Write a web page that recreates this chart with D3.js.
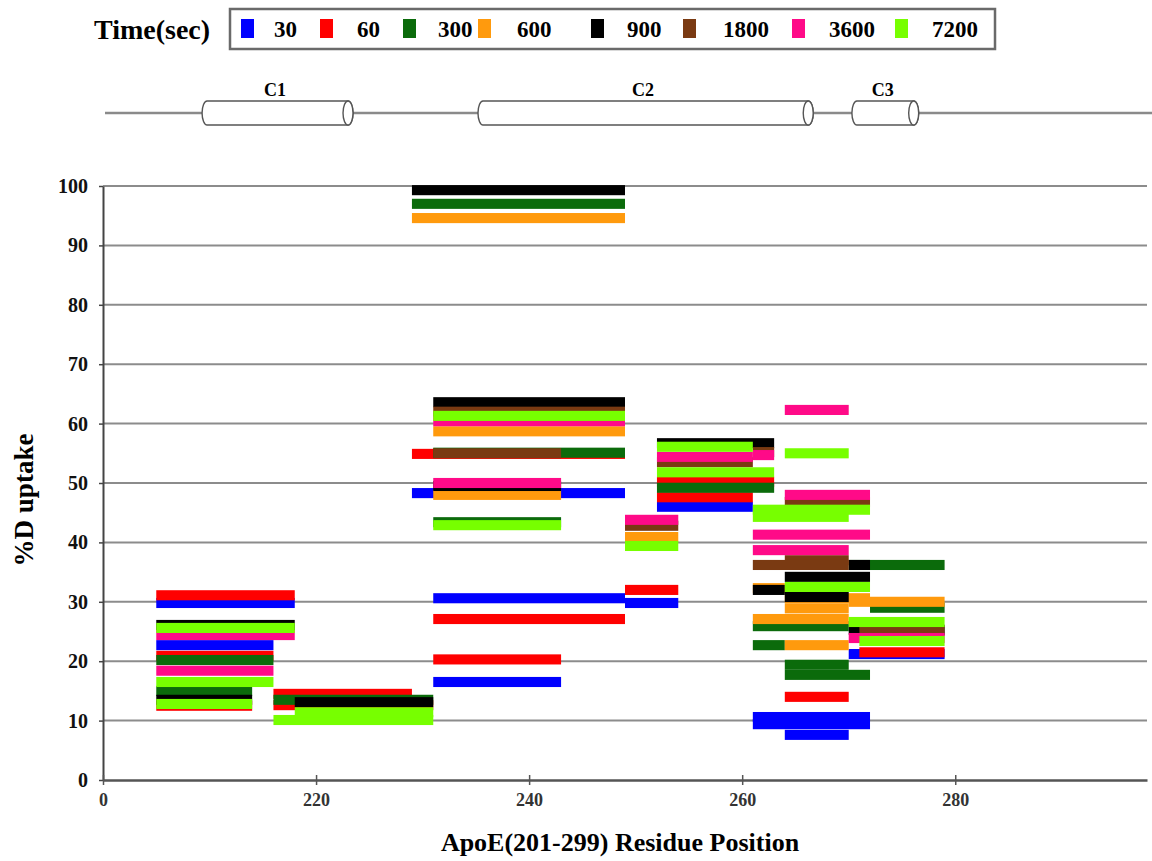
<!DOCTYPE html>
<html>
<head>
<meta charset="utf-8">
<script src="https://cdn.jsdelivr.net/npm/d3@7"></script>
<style>
body { margin: 0; background: #fff; }
text { font-family: "Liberation Serif", "Times New Roman", serif; }
</style>
</head>
<body>
<div class="chart"></div>
<script>
// time points (legend) and their colours
const times = ["30", "60", "300", "600", "900", "1800", "3600", "7200"];
const colors = ["#0000ff", "#ff0000", "#0b6b0b", "#ff9a0d", "#000000", "#7a3a12", "#ff0a88", "#77ff00"];

// each peptide: [start residue, end residue, %D uptake]
const uptake30 = [
    [205, 218, 29.8], [205, 216, 22.7], [229, 249, 48.3], [231, 249, 30.6],
    [231, 243, 16.5], [249, 254, 29.8], [252, 261, 46.0], [270, 279, 21.2],
    [261, 272, 10.6], [261, 272, 9.4], [264, 270, 7.6]
];
const uptake60 = [
    [205, 218, 31.1], [205, 216, 20.9], [205, 214, 12.5], [216, 229, 14.5],
    [216, 231, 12.6], [229, 249, 54.9], [231, 249, 27.1], [231, 243, 20.3],
    [249, 254, 32.0], [252, 263, 50.2], [252, 261, 47.6], [264, 270, 14.0],
    [271, 279, 21.5]
];
const uptake300 = [
    [205, 216, 20.2], [205, 214, 15.0], [216, 231, 13.5], [229, 249, 97.0],
    [231, 249, 55.1], [231, 243, 43.4], [252, 263, 49.2], [261, 264, 22.7],
    [264, 270, 19.4], [264, 272, 17.7], [270, 279, 36.2], [272, 279, 29.0],
    [261, 270, 25.9]
];
const uptake600 = [
    [229, 249, 94.6], [231, 249, 58.7], [231, 243, 48.0], [249, 254, 40.9],
    [261, 264, 32.3], [264, 272, 30.6], [270, 279, 30.0], [264, 270, 28.9],
    [261, 270, 27.1], [264, 270, 22.7]
];
const uptake900 = [
    [205, 218, 26.1], [205, 214, 13.5], [218, 231, 13.1], [229, 249, 99.3],
    [231, 249, 63.6], [231, 243, 49.5], [252, 263, 56.7], [261, 264, 32.0],
    [264, 272, 34.2], [264, 270, 30.8], [270, 272, 36.2], [270, 279, 25.3]
];
const uptake1800 = [
    [231, 249, 62.0], [231, 243, 55.0], [249, 254, 42.8], [252, 261, 53.5],
    [261, 263, 55.2], [264, 272, 46.8], [264, 270, 37.0], [261, 270, 36.2],
    [271, 279, 25.1]
];
const uptake3600 = [
    [205, 218, 24.4], [205, 216, 18.4], [231, 249, 60.4], [231, 243, 50.0],
    [249, 254, 43.8], [252, 261, 54.4], [261, 263, 54.7], [264, 270, 62.3],
    [264, 272, 48.0], [261, 272, 41.3], [261, 270, 38.7], [270, 279, 23.9]
];
const uptake7200 = [
    [205, 218, 25.6], [205, 216, 16.5], [205, 214, 12.8], [216, 231, 10.1],
    [218, 231, 11.4], [231, 249, 61.3], [231, 243, 42.9], [249, 254, 39.4],
    [252, 261, 56.1], [252, 263, 51.8], [264, 270, 55.0], [261, 272, 45.5],
    [261, 270, 44.3], [264, 272, 32.5], [270, 279, 26.6], [271, 279, 23.4]
];

// secondary structure (helices) along the sequence
const helixNames = ["C1", "C2", "C3"];
const helixStart = [209.3, 235.2, 270.3];
const helixEnd = [223, 266.2, 276.1];

const xTicks = [200, 220, 240, 260, 280];
const xTickLabels = ["0", "220", "240", "260", "280"];
const yTicks = [0, 10, 20, 30, 40, 50, 60, 70, 80, 90, 100];

function drawChart() {
    const w = 1152;
    const h = 861;
    const plot = { left: 103, right: 1147, top: 186, bottom: 780 };
    const barHalf = 0.85;

    const uptakes = [uptake30, uptake60, uptake300, uptake600, uptake900, uptake1800, uptake3600, uptake7200];
    const series = times.map((t, i) => ({ time: t, color: colors[i], bars: uptakes[i] }));

    const xScale = d3.scaleLinear()
        .domain([200, 298])
        .range([plot.left, plot.right]);

    const yScale = d3.scaleLinear()
        .domain([0, 100])
        .range([plot.bottom, plot.top]);

    const svg = d3.select('.chart')
        .append('svg')
        .attr('width', w)
        .attr('height', h)
        .style('background', '#fff');

    // legend
    const legendSquareX = [241, 320, 403, 478, 591, 683, 792, 895];
    const legendTextX = [274, 357, 438, 517, 627, 723, 829, 932];

    svg.append('text')
        .attr('x', 94)
        .attr('y', 39)
        .attr('font-size', 28)
        .attr('font-weight', 'bold')
        .text('Time(sec)');

    svg.append('rect')
        .attr('x', 230)
        .attr('y', 9)
        .attr('width', 765)
        .attr('height', 40)
        .attr('fill', '#fff')
        .attr('stroke', '#6a6a6a')
        .attr('stroke-width', 2.5);

    const legend = svg.append('g')
        .selectAll('g')
        .data(series)
        .enter()
        .append('g');

    legend.append('rect')
        .attr('x', (d, i) => legendSquareX[i])
        .attr('y', 19)
        .attr('width', 13)
        .attr('height', 19)
        .attr('fill', d => d.color);

    legend.append('text')
        .attr('x', (d, i) => legendTextX[i])
        .attr('y', 37)
        .attr('font-size', 23)
        .attr('font-weight', 'bold')
        .text(d => d.time);

    // helix diagram
    const hy = 113;
    const hr = 12;
    const capR = 5;

    svg.append('line')
        .attr('x1', 105)
        .attr('x2', w)
        .attr('y1', hy)
        .attr('y2', hy)
        .attr('stroke', '#8a8a8a')
        .attr('stroke-width', 2.5);

    const helix = svg.append('g')
        .selectAll('g')
        .data(helixNames.map((n, i) => ({ name: n, start: helixStart[i], end: helixEnd[i] })))
        .enter()
        .append('g');

    helix.append('path')
        .attr('d', d => {
            const x1 = xScale(d.start) + capR;
            const x2 = xScale(d.end);
            return 'M' + x1 + ',' + (hy - hr) + ' L' + x2 + ',' + (hy - hr) +
                ' A' + capR + ',' + hr + ' 0 0 1 ' + x2 + ',' + (hy + hr) +
                ' L' + x1 + ',' + (hy + hr) +
                ' A' + capR + ',' + hr + ' 0 0 1 ' + x1 + ',' + (hy - hr) + ' Z';
        })
        .attr('fill', '#fff')
        .attr('stroke', '#555')
        .attr('stroke-width', 1.4);

    helix.append('ellipse')
        .attr('cx', d => xScale(d.end))
        .attr('cy', hy)
        .attr('rx', capR)
        .attr('ry', hr)
        .attr('fill', '#fff')
        .attr('stroke', '#555')
        .attr('stroke-width', 1.4);

    helix.append('text')
        .attr('x', d => (xScale(d.start) + xScale(d.end)) / 2)
        .attr('y', 96)
        .attr('text-anchor', 'middle')
        .attr('font-size', 18)
        .attr('font-weight', 'bold')
        .text(d => d.name);

    // grid lines
    svg.append('g')
        .selectAll('line')
        .data(yTicks.filter(d => d > 0))
        .enter()
        .append('line')
        .attr('x1', plot.left)
        .attr('x2', plot.right)
        .attr('y1', d => yScale(d))
        .attr('y2', d => yScale(d))
        .attr('stroke', '#8c8c8c')
        .attr('stroke-width', 2);

    // uptake bars
    svg.append('g')
        .selectAll('g')
        .data(series)
        .enter()
        .append('g')
        .attr('fill', d => d.color)
        .selectAll('rect')
        .data(d => d.bars)
        .enter()
        .append('rect')
        .attr('x', d => xScale(d[0]))
        .attr('width', d => xScale(d[1]) - xScale(d[0]))
        .attr('y', d => yScale(d[2] + barHalf))
        .attr('height', d => yScale(d[2] - barHalf) - yScale(d[2] + barHalf));

    // axes
    const yAxis = d3.axisLeft(yScale)
        .tickValues(yTicks)
        .tickSize(4)
        .tickSizeOuter(0)
        .tickPadding(11);

    const xAxis = d3.axisBottom(xScale)
        .tickValues(xTicks)
        .tickFormat((d, i) => xTickLabels[i])
        .tickSize(5)
        .tickSizeOuter(0)
        .tickPadding(8);

    const gy = svg.append('g')
        .attr('transform', 'translate(' + plot.left + ',0)')
        .call(yAxis);
    gy.select('.domain').attr('stroke', '#444').attr('stroke-width', 2);
    gy.selectAll('.tick line').attr('stroke', '#444').attr('stroke-width', 1.5);
    gy.selectAll('.tick text')
        .attr('font-family', '"Liberation Serif", serif')
        .attr('font-size', 20)
        .attr('font-weight', 'bold')
        .attr('fill', '#111');

    const gx = svg.append('g')
        .attr('transform', 'translate(0,' + plot.bottom + ')')
        .call(xAxis);
    gx.select('.domain').attr('stroke', '#555').attr('stroke-width', 2.5);
    gx.selectAll('.tick line').attr('y1', -5).attr('stroke', '#555').attr('stroke-width', 1.5);
    gx.selectAll('.tick text')
        .attr('font-family', '"Liberation Serif", serif')
        .attr('font-size', 18)
        .attr('font-weight', 'bold')
        .attr('fill', '#333');

    svg.append('text')
        .attr('transform', 'translate(33,500) rotate(-90)')
        .attr('text-anchor', 'middle')
        .attr('font-size', 27)
        .attr('font-weight', 'bold')
        .text('%D uptake');

    svg.append('text')
        .attr('x', 620)
        .attr('y', 851)
        .attr('text-anchor', 'middle')
        .attr('font-size', 26)
        .attr('font-weight', 'bold')
        .text('ApoE(201-299) Residue Position');
}

drawChart();
</script>
</body>
</html>
